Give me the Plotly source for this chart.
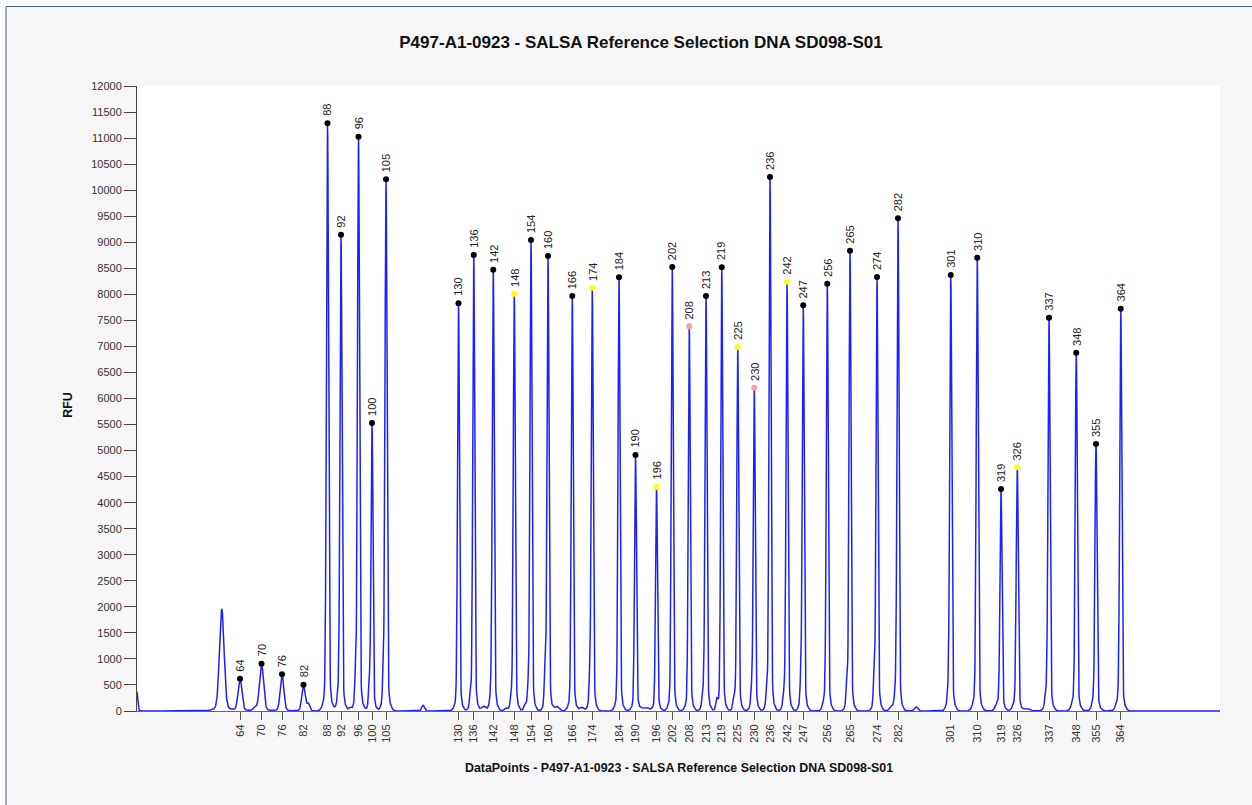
import numpy as np
import plotly.graph_objects as go

# ---------------- data ----------------
TITLE = "P497-A1-0923 - SALSA Reference Selection DNA SD098-S01"
X_TITLE = "DataPoints - P497-A1-0923 - SALSA Reference Selection DNA SD098-S01"
Y_TITLE = "RFU"

# labelled peaks: fragment size (nt), scan position (data points), height (RFU)
peak_sizes = [64, 70, 76, 82, 88, 92, 96, 100, 105,
              130, 136, 142, 148, 154, 160, 166, 174, 184, 190, 196,
              202, 208, 213, 219, 225, 230, 236, 242, 247, 256, 265,
              274, 282, 301, 310, 319, 326, 337, 348, 355, 364]
peak_pos = [412, 498, 580, 666, 762, 816, 886, 940, 996,
            1286, 1347, 1425, 1509, 1576, 1644, 1741, 1821, 1928, 1994, 2078,
            2141, 2209, 2276, 2339, 2403, 2469, 2532, 2600, 2665, 2761, 2852,
            2960, 3044, 3255, 3361, 3456, 3521, 3648, 3757, 3836, 3935]
peak_rfu = [620, 908, 704, 505, 11284, 9145, 11025, 5530, 10209,
            7828, 8755, 8473, 8012, 9043, 8736, 7968, 8128, 8327, 4915, 4301,
            8525, 7386, 7968, 8519, 6989, 6208, 10253, 8243, 7789, 8205, 8838,
            8333, 9459, 8371, 8704, 4262, 4679, 7552, 6880, 5126, 7725]
peak_width = [7.5, 8, 7, 6.5, 4.2, 4.0, 4.0, 3.8, 4.0,
              3.8, 3.8, 3.8, 3.8, 3.8, 3.8, 3.8, 3.8, 3.8, 3.8, 3.8,
              3.8, 3.8, 3.8, 3.8, 3.8, 3.8, 3.8, 3.8, 3.8, 3.8, 3.8,
              3.8, 3.8, 4.0, 4.0, 4.0, 4.0, 4.0, 4.0, 4.0, 4.0]
# quality flag of each labelled peak: ok / warn (yellow) / low (pink)
peak_flag = ["ok"] * 12 + ["warn"] + ["ok"] * 3 + ["warn"] + ["ok"] * 2 + ["warn"] + \
            ["ok", "low", "ok", "ok", "warn", "low", "ok", "warn"] + ["ok"] * 8 + \
            ["warn"] + ["ok"] * 4

# unlabelled peaks, shoulders and small artefacts
minor_pos = [0, 339, 472, 685, 805, 852, 874, 929, 985, 1144,
             1333, 1386, 1416, 1475, 1496, 1552, 1565, 1632, 1679, 1779, 1811,
             2032, 2264, 2319, 2388, 2458, 2519, 2588, 2655,
             2748, 2839, 2948, 3015, 3033, 3116, 3245, 3350, 3440, 3510, 3560,
             3635, 3745, 3826, 3921]
minor_rfu = [370, 1960, 70, 140, 180, 60, 500, 430, 480, 110,
             230, 90, 190, 50, 170, 100, 330, 700, 90, 70, 480,
             70, 220, 180, 220, 290, 290, 220, 430,
             80, 440, 470, 80, 190, 80, 220, 60, 90, 70, 50,
             200, 80, 120, 60]
minor_width = [3, 9, 6, 5, 4, 5, 3, 3, 3, 5,
               3, 8, 4, 6, 3, 5, 3, 3, 8, 8, 3,
               14, 4, 4, 4, 3, 3, 4, 3,
               6, 3, 3, 6, 4, 6, 4, 8, 8, 8, 10,
               4, 8, 6, 8]

flag_colors = {"ok": "#000000", "warn": "#ffff00", "low": "#ff9c9c"}

# ---------------- trace ----------------
x = np.arange(0, 4333, 1.0)
signal = np.zeros_like(x)
for p, h, s in zip(peak_pos + minor_pos, peak_rfu + minor_rfu, peak_width + minor_width):
    signal += 0.96 * h * np.exp(-0.5 * ((x - p) / s) ** 2)
    signal += 0.04 * h * np.exp(-0.5 * ((x - p) / (3.0 * s)) ** 2)

FONT = "Liberation Sans, Arial"

fig = go.Figure()
fig.add_trace(go.Scatter(x=x, y=signal, mode="lines",
                         line=dict(color="#2020ff", width=1.5),
                         hoverinfo="skip", showlegend=False))
fig.add_trace(go.Scatter(x=peak_pos, y=peak_rfu, mode="markers",
                         marker=dict(size=6, color=[flag_colors[f] for f in peak_flag],
                                     line=dict(width=0)),
                         showlegend=False))

annotations = []
for s, p, h in zip(peak_sizes, peak_pos, peak_rfu):
    annotations.append(dict(x=p, y=h, xref="x", yref="y", text=str(s),
                            textangle=-90, showarrow=False, xanchor="center",
                            yanchor="bottom", yshift=5,
                            font=dict(family=FONT, size=11, color="#222")))

annotations.append(dict(x=0.5, y=-0.0912, xref="paper", yref="paper", text="<b>" + X_TITLE + "</b>",
                        showarrow=False, xanchor="center", yanchor="middle",
                        font=dict(family=FONT, size=12.4, color="#111")))
annotations.append(dict(x=-0.0637, y=0.49, xref="paper", yref="paper", text="<b>" + Y_TITLE + "</b>",
                        textangle=-90, showarrow=False, xanchor="center", yanchor="middle",
                        font=dict(family=FONT, size=12.4, color="#111")))

L, R, T, B = 137, 1220, 86, 711
W, H = 1252, 805
pw, ph = R - L, B - T

def px2paper_x(v):
    return (v - L) / pw

def px2paper_y(v):
    return (B - v) / ph

shapes = [
    dict(type="rect", xref="paper", yref="paper", layer="below",
         x0=px2paper_x(6), x1=px2paper_x(1260), y0=px2paper_y(815), y1=px2paper_y(6.5),
         fillcolor="#f6f6f6", line=dict(color="#40607f", width=1)),
    dict(type="rect", xref="paper", yref="paper", layer="below",
         x0=0, x1=1, y0=0, y1=1, fillcolor="#ffffff", line=dict(width=0)),
]

fig.update_layout(
    width=W, height=H,
    margin=dict(l=L, r=W - R, t=T, b=H - B),
    paper_bgcolor="#ffffff", plot_bgcolor="#ffffff",
    title=dict(text="<b>" + TITLE + "</b>", x=641 / W, xref="container", xanchor="center",
               y=1 - 42 / H, yref="container", yanchor="middle",
               font=dict(family=FONT, size=17, color="#111")),
    annotations=annotations, shapes=shapes,
    xaxis=dict(range=[0, pw * 4], showgrid=False, zeroline=False,
               showline=True, linecolor="#666", linewidth=1,
               tickmode="array", tickvals=peak_pos, ticktext=[str(s) for s in peak_sizes],
               ticks="outside", ticklen=8, tickcolor="#555", tickangle=-90,
               tickfont=dict(family=FONT, size=11, color="#333")),
    yaxis=dict(range=[0, 12000], showgrid=False, zeroline=False,
               showline=True, linecolor="#444", linewidth=1,
               tickmode="linear", tick0=0, dtick=500, tickformat="d",
               ticks="outside", ticklen=12, tickcolor="#444",
               tickfont=dict(family=FONT, size=11, color="#333")),
    hovermode=False,
)

fig.write_html("out.html", config={"displayModeBar": False},
               post_script="document.body.style.margin='0';document.body.style.overflow='hidden';")
